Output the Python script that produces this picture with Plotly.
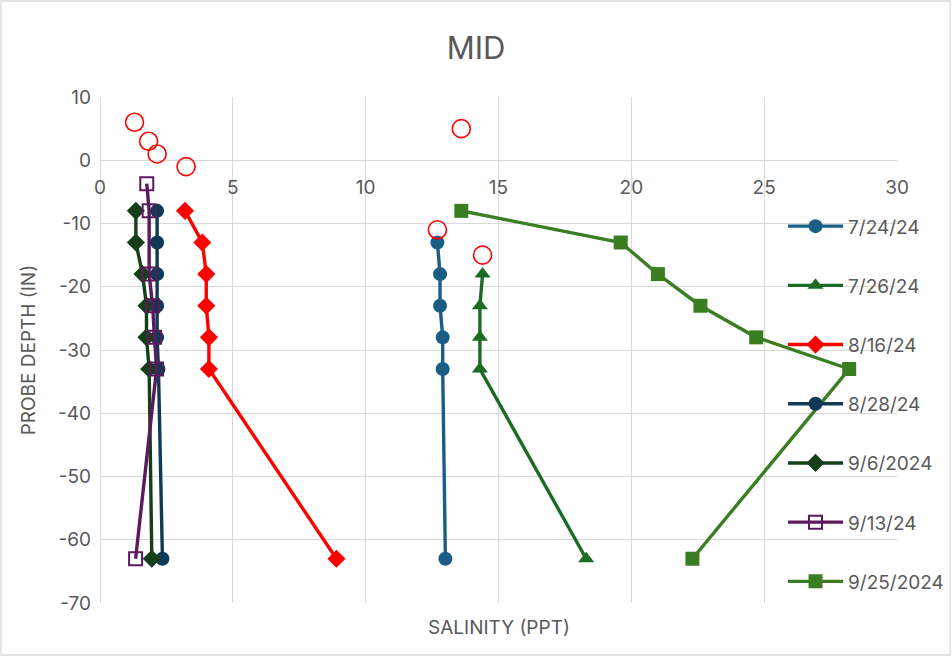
import plotly.graph_objects as go

# ---- data ----
depth_7_24 = [-13, -18, -23, -28, -33, -63]
sal_7_24 = [12.7, 12.8, 12.8, 12.9, 12.9, 13.0]

depth_7_26 = [-18, -23, -28, -33, -63]
sal_7_26 = [14.4, 14.3, 14.3, 14.3, 18.3]

depth_8_16 = [-8, -13, -18, -23, -28, -33, -63]
sal_8_16 = [3.2, 3.85, 4.0, 4.0, 4.1, 4.1, 8.9]

depth_8_28 = [-8, -13, -18, -23, -28, -33, -63]
sal_8_28 = [2.15, 2.15, 2.15, 2.15, 2.15, 2.2, 2.35]

depth_9_6 = [-8, -13, -18, -23, -28, -33, -63]
sal_9_6 = [1.35, 1.35, 1.6, 1.75, 1.75, 1.85, 1.95]

depth_9_13 = [-3.7, -8, -18, -23, -28, -33, -63]
sal_9_13 = [1.76, 1.85, 1.85, 1.98, 2.05, 2.13, 1.34]

depth_9_25 = [-8, -13, -18, -23, -28, -33, -63]
sal_9_25 = [13.6, 19.6, 21.0, 22.6, 24.7, 28.2, 22.3]

depth_extra = [6, 3, 1, -1, 5, -11, -15]
sal_extra = [1.3, 1.83, 2.15, 3.24, 13.6, 12.7, 14.4]

x_ticks = [0, 5, 10, 15, 20, 25, 30]
y_ticks = [10, 0, -10, -20, -30, -40, -50, -60, -70]

FONT = "Inter"
GRAY = "#595959"
GRID = "#d9d9d9"

fig = go.Figure()

series = [
    ("7/24/24", sal_7_24, depth_7_24, "#1a5e85", "circle", 14),
    ("7/26/24", sal_7_26, depth_7_26, "#1b6b24", "triangle-up", 14),
    ("8/16/24", sal_8_16, depth_8_16, "#ff0000", "diamond", 14),
    ("8/28/24", sal_8_28, depth_8_28, "#0e3a56", "circle", 14),
    ("9/6/2024", sal_9_6, depth_9_6, "#153f19", "diamond", 14),
    ("9/13/24", sal_9_13, depth_9_13, "#5c1a5e", "square-open", 13),
    ("9/25/2024", sal_9_25, depth_9_25, "#3b7d23", "square", 14),
]

for i, (name, xs, ys, col, sym, sz) in enumerate(series):
    mk = dict(symbol=sym, size=sz, color=col)
    if sym.endswith("open"):
        mk["line"] = dict(color=col, width=2)
    fig.add_trace(go.Scatter(
        x=xs, y=ys, name=name, mode="lines+markers",
        line=dict(color=col, width=3.4), marker=mk,
        legendgroup=f"g{i}",
    ))

fig.add_trace(go.Scatter(
    x=sal_extra, y=depth_extra, mode="markers", showlegend=False,
    marker=dict(symbol="circle-open", size=18, color="#ff0000", line=dict(width=1.6, color="#ff0000")),
))

fig.update_layout(
    width=952, height=658,
    margin=dict(l=100, r=55, t=97, b=55, autoexpand=False),
    paper_bgcolor="white", plot_bgcolor="white",
    font=dict(family=FONT, color=GRAY, size=19),
    title=dict(text="MID", x=0.5, xanchor="center", y=0.927, yanchor="middle",
               font=dict(size=31, color=GRAY, family=FONT)),
    legend=dict(x=0.857, y=0.782, xanchor="left", yanchor="top",
                bgcolor="rgba(0,0,0,0)", font=dict(size=19, color=GRAY),
                traceorder="grouped", tracegroupgap=31.5, itemwidth=55),
    xaxis=dict(range=[0, 30], tickvals=x_ticks, ticktext=[str(v) for v in x_ticks],
               showgrid=True, gridcolor=GRID, gridwidth=1.3,
               zeroline=True, zerolinecolor=GRID, zerolinewidth=1.3,
               anchor="free", position=0.875, showline=False,
               ticks="", ticklabelstandoff=14, tickfont=dict(size=19, color=GRAY)),
    yaxis=dict(range=[-70, 10], tickvals=y_ticks, ticktext=[str(v) for v in y_ticks],
               showgrid=True, gridcolor=GRID, gridwidth=1.3,
               zeroline=True, zerolinecolor=GRID, zerolinewidth=1.3,
               showline=False, ticks="", ticklabelstandoff=8,
               tickfont=dict(size=19, color=GRAY)),
    annotations=[
        dict(text="SALINITY (PPT)", x=0.5, y=-0.048, xref="paper", yref="paper",
             xanchor="center", yanchor="middle", showarrow=False,
             font=dict(size=19, color=GRAY)),
        dict(text="PROBE DEPTH (IN)", x=-0.09, y=0.5, xref="paper", yref="paper",
             xanchor="center", yanchor="middle", showarrow=False, textangle=-90,
             font=dict(size=19, color=GRAY)),
    ],
    shapes=[
        dict(type="rect", xref="paper", yref="paper",
             x0=-99 / 797, x1=850 / 797, y0=-52 / 506, y1=(506 + 96) / 506,
             line=dict(color=GRID, width=1.3), fillcolor="rgba(0,0,0,0)", layer="below"),
    ],
)

fig.write_html("out.html", config={"displayModeBar": False},
               post_script="document.body.style.margin='0';")
